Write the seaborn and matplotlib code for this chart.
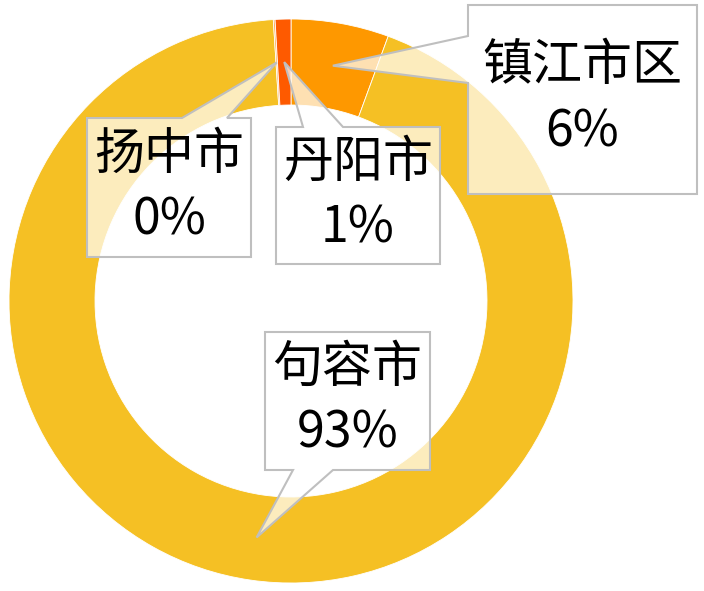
import numpy as np
import matplotlib
matplotlib.use('Agg')
import matplotlib.pyplot as plt
from matplotlib.patches import Polygon
import seaborn as sns

# data (share of total, clockwise from 12 o'clock)
regions = ['镇江市区', '句容市', '扬中市', '丹阳市']
shares = [5.6, 93.4, 0.1, 0.9]
slice_colors = ['#FE9800', '#F5C024', '#FCA84A', '#FE5A00']

# callout boxes in pixel coords (left, top, right, bottom), pointer edge and base
W, H = 704, 591
boxes = {
    '镇江市区': ((468, 5, 697, 194), 'left', (36, 83)),
    '扬中市': ((87, 118, 251, 257), 'top', (182, 227)),
    '丹阳市': ((276, 127, 440, 264), 'top', (303, 343)),
    '句容市': ((265, 332, 430, 470), 'bottom', (293, 333)),
}

sns.set_theme(style='white')
plt.rcParams['font.family'] = ['Noto Sans CJK SC', 'DejaVu Sans']

fig = plt.figure(figsize=(W / 100, H / 100), dpi=100)
ax = fig.add_axes([0, 0, 1, 1])

cx, cy = 291, H - 301
R, ring = 282, 86
wedges, _ = ax.pie(shares, colors=sns.color_palette(slice_colors), startangle=90,
                   counterclock=False, radius=R, center=(cx, cy),
                   wedgeprops=dict(width=ring, edgecolor='white', linewidth=0.6))
ax.set_xlim(0, W)
ax.set_ylim(0, H)
ax.set_aspect('equal')
ax.axis('off')

total = sum(shares)
r_mid = R - ring / 2
for name, val, w in zip(regions, shares, wedges):
    ang = np.deg2rad((w.theta1 + w.theta2) / 2)
    tip = (cx + r_mid * np.cos(ang), cy + r_mid * np.sin(ang))
    (x0, y0, x1, y1), side, (b1, b2) = boxes[name]
    y0, y1 = H - y0, H - y1
    if side == 'left':
        b1, b2 = H - b1, H - b2
        pts = [(x0, y0), (x1, y0), (x1, y1), (x0, y1), (x0, b2), tip, (x0, b1)]
    elif side == 'top':
        pts = [(x0, y0), (b1, y0), tip, (b2, y0), (x1, y0), (x1, y1), (x0, y1)]
    else:
        pts = [(x0, y0), (x1, y0), (x1, y1), (b2, y1), tip, (b1, y1), (x0, y1)]
    ax.add_patch(Polygon(pts, closed=True, facecolor='white', alpha=0.7,
                         edgecolor='none', zorder=3))
    ax.add_patch(Polygon(pts, closed=True, facecolor='none',
                         edgecolor='#BFBFBF', linewidth=1.5, zorder=4))
    mx, my = (x0 + x1) / 2, (y0 + y1) / 2
    ax.text(mx, my + 33, name, ha='center', va='center', fontsize=36,
            fontweight='medium', color='black', zorder=5)
    ax.text(mx, my - 33, f'{round(val / total * 100):.0f}%', ha='center',
            va='center', fontsize=36, fontweight='medium', color='black',
            zorder=5)

fig.savefig('out.png', dpi=100)
